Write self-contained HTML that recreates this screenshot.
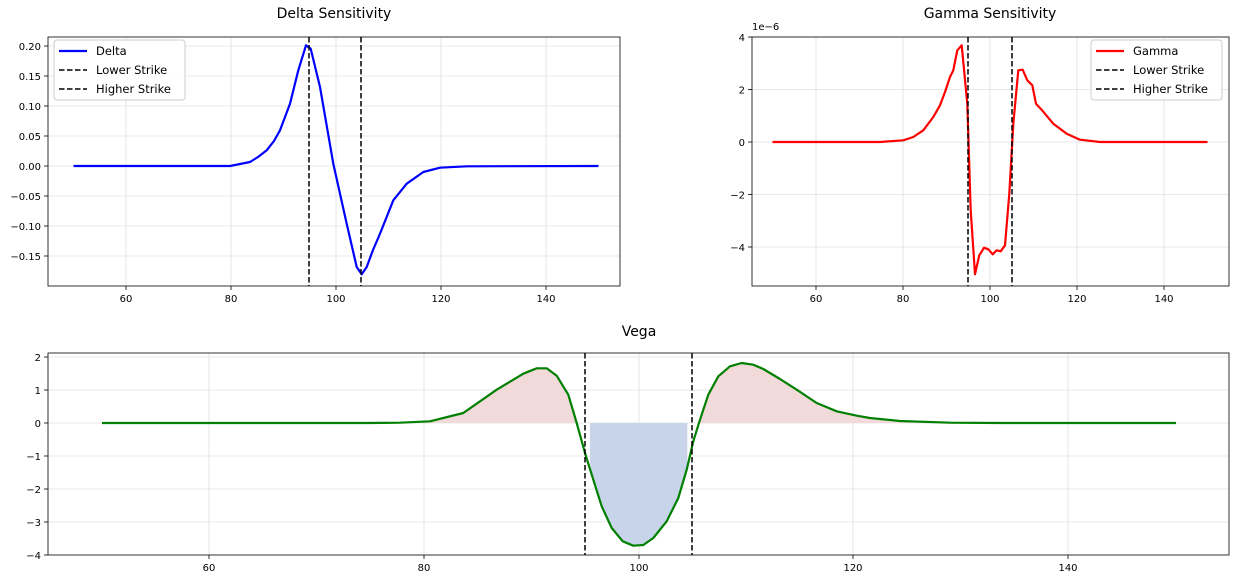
<!DOCTYPE html>
<html><head><meta charset="utf-8"><style>
html,body{margin:0;padding:0;background:#fff}
svg{display:block;font-family:"DejaVu Sans","Liberation Sans",sans-serif}
</style></head><body>
<svg width="1233" height="579" viewBox="0 0 1233 579" xmlns="http://www.w3.org/2000/svg">
<g stroke="#e0e0e0" stroke-width="0.8">
<line x1="126" y1="37" x2="126" y2="286"/><line x1="231" y1="37" x2="231" y2="286"/><line x1="336" y1="37" x2="336" y2="286"/><line x1="441" y1="37" x2="441" y2="286"/><line x1="546" y1="37" x2="546" y2="286"/>
<line x1="48" y1="46" x2="620" y2="46"/><line x1="48" y1="76" x2="620" y2="76"/><line x1="48" y1="106" x2="620" y2="106"/><line x1="48" y1="136" x2="620" y2="136"/><line x1="48" y1="166" x2="620" y2="166"/><line x1="48" y1="196" x2="620" y2="196"/><line x1="48" y1="226" x2="620" y2="226"/><line x1="48" y1="256" x2="620" y2="256"/>
<line x1="816" y1="37" x2="816" y2="286"/><line x1="903" y1="37" x2="903" y2="286"/><line x1="990" y1="37" x2="990" y2="286"/><line x1="1077" y1="37" x2="1077" y2="286"/><line x1="1164" y1="37" x2="1164" y2="286"/>
<line x1="752" y1="37" x2="1229" y2="37"/><line x1="752" y1="89.5" x2="1229" y2="89.5"/><line x1="752" y1="142" x2="1229" y2="142"/><line x1="752" y1="194.5" x2="1229" y2="194.5"/><line x1="752" y1="247" x2="1229" y2="247"/>
<line x1="209" y1="353" x2="209" y2="555"/><line x1="424" y1="353" x2="424" y2="555"/><line x1="639" y1="353" x2="639" y2="555"/><line x1="853" y1="353" x2="853" y2="555"/><line x1="1068" y1="353" x2="1068" y2="555"/>
<line x1="48" y1="357" x2="1229" y2="357"/><line x1="48" y1="390" x2="1229" y2="390"/><line x1="48" y1="423" x2="1229" y2="423"/><line x1="48" y1="456" x2="1229" y2="456"/><line x1="48" y1="489" x2="1229" y2="489"/><line x1="48" y1="522" x2="1229" y2="522"/>
</g>
<g stroke="#000" stroke-width="0.8">
<line x1="126" y1="286" x2="126" y2="290"/><line x1="231" y1="286" x2="231" y2="290"/><line x1="336" y1="286" x2="336" y2="290"/><line x1="441" y1="286" x2="441" y2="290"/><line x1="546" y1="286" x2="546" y2="290"/>
<line x1="44" y1="46" x2="48" y2="46"/><line x1="44" y1="76" x2="48" y2="76"/><line x1="44" y1="106" x2="48" y2="106"/><line x1="44" y1="136" x2="48" y2="136"/><line x1="44" y1="166" x2="48" y2="166"/><line x1="44" y1="196" x2="48" y2="196"/><line x1="44" y1="226" x2="48" y2="226"/><line x1="44" y1="256" x2="48" y2="256"/>
<line x1="816" y1="286" x2="816" y2="290"/><line x1="903" y1="286" x2="903" y2="290"/><line x1="990" y1="286" x2="990" y2="290"/><line x1="1077" y1="286" x2="1077" y2="290"/><line x1="1164" y1="286" x2="1164" y2="290"/>
<line x1="748" y1="37" x2="752" y2="37"/><line x1="748" y1="89.5" x2="752" y2="89.5"/><line x1="748" y1="142" x2="752" y2="142"/><line x1="748" y1="194.5" x2="752" y2="194.5"/><line x1="748" y1="247" x2="752" y2="247"/>
<line x1="209" y1="555" x2="209" y2="559"/><line x1="424" y1="555" x2="424" y2="559"/><line x1="639" y1="555" x2="639" y2="559"/><line x1="853" y1="555" x2="853" y2="559"/><line x1="1068" y1="555" x2="1068" y2="559"/>
<line x1="44" y1="357" x2="48" y2="357"/><line x1="44" y1="390" x2="48" y2="390"/><line x1="44" y1="423" x2="48" y2="423"/><line x1="44" y1="456" x2="48" y2="456"/><line x1="44" y1="489" x2="48" y2="489"/><line x1="44" y1="522" x2="48" y2="522"/><line x1="44" y1="555" x2="48" y2="555"/>
</g>
<g font-size="10" text-anchor="middle" fill="#000">
<text x="126" y="302">60</text><text x="231" y="302">80</text><text x="336" y="302">100</text><text x="441" y="302">120</text><text x="546" y="302">140</text>
<text x="816" y="302">60</text><text x="903" y="302">80</text><text x="990" y="302">100</text><text x="1077" y="302">120</text><text x="1164" y="302">140</text>
<text x="209" y="571">60</text><text x="424" y="571">80</text><text x="639" y="571">100</text><text x="853" y="571">120</text><text x="1068" y="571">140</text>
</g>
<g font-size="10" text-anchor="end" fill="#000">
<text x="41" y="50">0.20</text><text x="41" y="80">0.15</text><text x="41" y="110">0.10</text><text x="41" y="140">0.05</text><text x="41" y="170">0.00</text><text x="41" y="200">−0.05</text><text x="41" y="230">−0.10</text><text x="41" y="260">−0.15</text>
<text x="745" y="41">4</text><text x="745" y="93.5">2</text><text x="745" y="146">0</text><text x="745" y="198.5">−2</text><text x="745" y="251">−4</text>
<text x="41" y="361">2</text><text x="41" y="394">1</text><text x="41" y="427">0</text><text x="41" y="460">−1</text><text x="41" y="493">−2</text><text x="41" y="526">−3</text><text x="41" y="559">−4</text>
</g>
<path d="M102,423 L370,423 L400,422.7 L430,421.3 L463.3,413 L496.7,389.7 L523.3,373.7 L536.7,368.3 L546.7,368.3 L556.7,375.7 L568.3,394.7 L576.7,423 Z" fill="#f2d9da"/>
<path d="M700,423 L700,419.7 L708.3,394.7 L718.3,376.3 L730,366.3 L741.7,363 L753.3,364.7 L763.3,369 L780,379 L796.7,389.7 L816.7,403 L836.7,411.3 L856.7,415.7 L870,418 L900,421 L950,422.7 L1000,423 Z" fill="#f2d9da"/>
<path d="M590,423 L590,463 L593.3,479.7 L601.7,506.3 L611.7,528 L622.7,541.3 L633.3,545.7 L643.3,545 L653.3,538 L666.7,521.3 L678.3,498 L687.3,468 L687.3,423 Z" fill="#c7d4ea"/>
<g fill="none" stroke-width="2.2" stroke-linejoin="round">
<polyline stroke="#0000ff" points="73.5,166 230,166 250,162 258,157 266.7,150.3 274,141 280,130.3 290,103.7 298.3,70.3 306,45.3 310.7,48.7 320,87 333.3,163.7 346.7,223.7 356.7,267 361.7,274.3 366.7,267 373,250 380,233.7 393.3,200.3 406.7,183.7 423.3,172 440,167.7 466.7,166.3 598.5,166"/>
<polyline stroke="#ff0000" points="772.5,142 880,142 903.3,140.3 913.3,137 923.3,130.3 933.3,117 940,105.3 945,92 950,77 953.3,70.3 957.3,50.3 961.7,45.3 967.3,103.7 970.7,210.3 975,274.3 979.3,255.3 984,247.7 988.3,249.3 992.7,254.3 996.7,250.3 1000.7,251.3 1005,245.3 1009.3,193.7 1013.3,123.7 1018.3,70.3 1022.7,69.7 1027.3,80.3 1032.3,85.3 1036,103.7 1040.7,108.7 1053.3,123.7 1066.7,133.7 1080,139.7 1100,142 1207.5,142"/>
<polyline stroke="#008000" points="102,423 370,423 400,422.7 430,421.3 463.3,413 496.7,389.7 523.3,373.7 536.7,368.3 546.7,368.3 556.7,375.7 568.3,394.7 576.7,423 585,453 593.3,479.7 601.7,506.3 611.7,528 622.7,541.3 633.3,545.7 643.3,545 653.3,538 666.7,521.3 678.3,498 686.7,469.7 693.3,441.3 700,419.7 708.3,394.7 718.3,376.3 730,366.3 741.7,363 753.3,364.7 763.3,369 780,379 796.7,389.7 816.7,403 836.7,411.3 856.7,415.7 870,418 900,421 950,422.7 1000,423 1176,423"/>
</g>
<g stroke="#000" stroke-width="1.5" stroke-dasharray="5.5,2.5">
<line x1="309" y1="37" x2="309" y2="286"/><line x1="361" y1="37" x2="361" y2="286"/>
<line x1="968" y1="37" x2="968" y2="286"/><line x1="1012" y1="37" x2="1012" y2="286"/>
<line x1="585" y1="353" x2="585" y2="555"/><line x1="692" y1="353" x2="692" y2="555"/>
</g>
<g fill="none" stroke="#000" stroke-width="0.8">
<rect x="48" y="37" width="572" height="249"/><rect x="752" y="37" width="477" height="249"/><rect x="48" y="353" width="1181" height="202"/>
</g>
<rect x="54" y="40" width="131" height="60" fill="#fff" fill-opacity="0.85" stroke="#ccc" rx="3"/>
<line x1="59" y1="51" x2="87" y2="51" stroke="#0000ff" stroke-width="2.2"/>
<line x1="59" y1="70" x2="87" y2="70" stroke="#000" stroke-width="1.5" stroke-dasharray="5.5,2.5"/>
<line x1="59" y1="89" x2="87" y2="89" stroke="#000" stroke-width="1.5" stroke-dasharray="5.5,2.5"/>
<g font-size="11.5"><text x="96" y="55">Delta</text><text x="96" y="74">Lower Strike</text><text x="96" y="93">Higher Strike</text></g>
<rect x="1091" y="40" width="131" height="60" fill="#fff" fill-opacity="0.85" stroke="#ccc" rx="3"/>
<line x1="1096" y1="51" x2="1124" y2="51" stroke="#ff0000" stroke-width="2.2"/>
<line x1="1096" y1="70" x2="1124" y2="70" stroke="#000" stroke-width="1.5" stroke-dasharray="5.5,2.5"/>
<line x1="1096" y1="89" x2="1124" y2="89" stroke="#000" stroke-width="1.5" stroke-dasharray="5.5,2.5"/>
<g font-size="11.5"><text x="1133" y="55">Gamma</text><text x="1133" y="74">Lower Strike</text><text x="1133" y="93">Higher Strike</text></g>
<text x="752" y="30" font-size="10">1e−6</text>
<g font-size="14" text-anchor="middle"><text x="334" y="18">Delta Sensitivity</text><text x="990" y="18">Gamma Sensitivity</text><text x="639" y="336">Vega</text></g>
</svg>
</body></html>
